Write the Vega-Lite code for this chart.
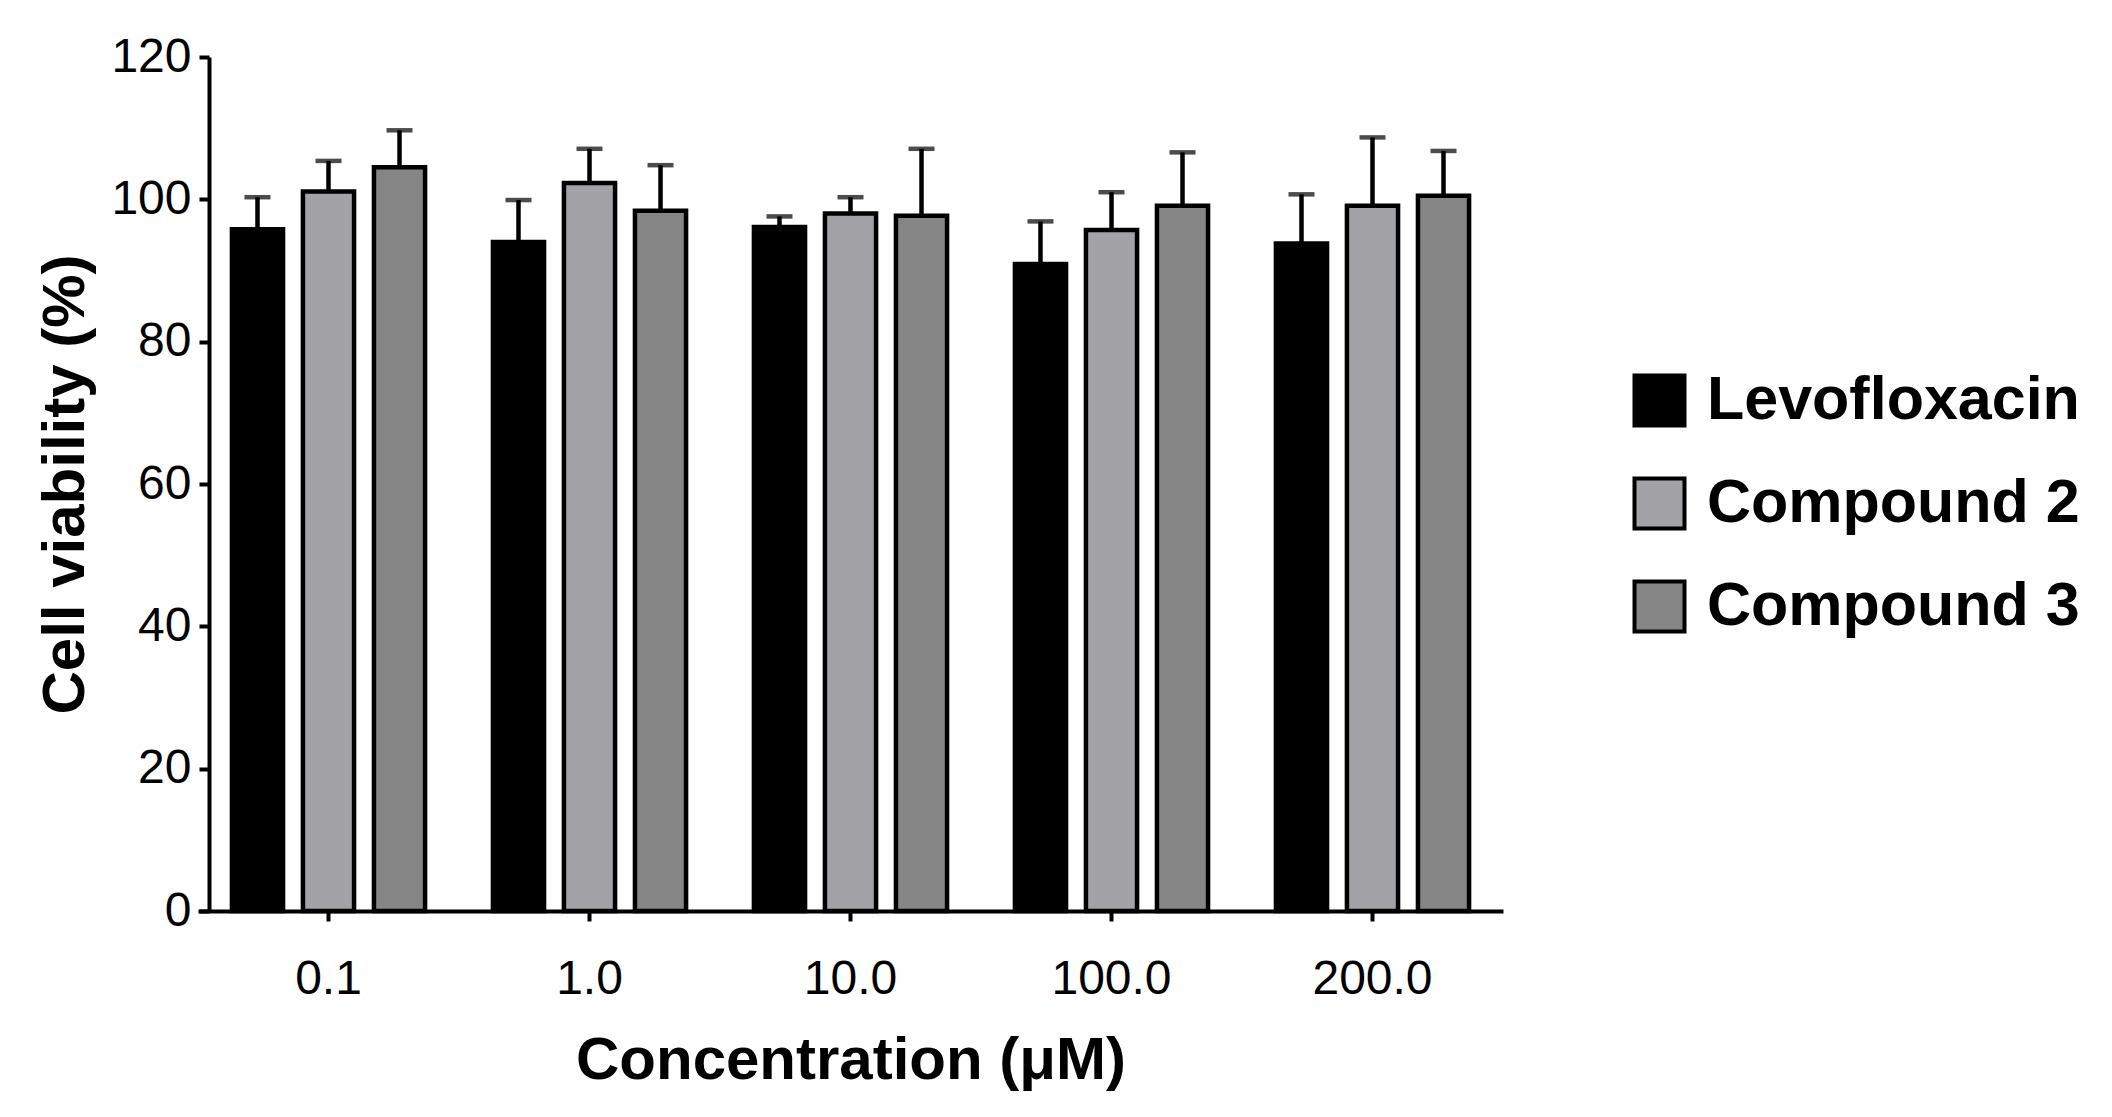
{
  "$schema": "https://vega.github.io/schema/vega-lite/v6.json",
  "autosize": "none",
  "width": 1305,
  "height": 854,
  "padding": {"left": 198, "top": 57, "right": 609, "bottom": 206},
  "background": "white",
  "data": {"values": [
    {"conc": "0.1", "group": "Levofloxacin", "mean": 95.8, "upper": 100.3},
    {"conc": "0.1", "group": "Compound 2", "mean": 101.1, "upper": 105.4},
    {"conc": "0.1", "group": "Compound 3", "mean": 104.5, "upper": 109.7},
    {"conc": "1.0", "group": "Levofloxacin", "mean": 94.0, "upper": 99.9},
    {"conc": "1.0", "group": "Compound 2", "mean": 102.3, "upper": 107.1},
    {"conc": "1.0", "group": "Compound 3", "mean": 98.4, "upper": 104.8},
    {"conc": "10.0", "group": "Levofloxacin", "mean": 96.1, "upper": 97.6},
    {"conc": "10.0", "group": "Compound 2", "mean": 98.0, "upper": 100.3},
    {"conc": "10.0", "group": "Compound 3", "mean": 97.7, "upper": 107.1},
    {"conc": "100.0", "group": "Levofloxacin", "mean": 90.9, "upper": 96.9},
    {"conc": "100.0", "group": "Compound 2", "mean": 95.7, "upper": 101.0},
    {"conc": "100.0", "group": "Compound 3", "mean": 99.1, "upper": 106.6},
    {"conc": "200.0", "group": "Levofloxacin", "mean": 93.8, "upper": 100.7},
    {"conc": "200.0", "group": "Compound 2", "mean": 99.1, "upper": 108.7},
    {"conc": "200.0", "group": "Compound 3", "mean": 100.5, "upper": 106.8}
  ]},
  "encoding": {
    "x": {
      "field": "conc", "type": "nominal",
      "sort": ["0.1", "1.0", "10.0", "100.0", "200.0"],
      "scale": {"paddingInner": 0.26, "paddingOuter": 0.13},
      "axis": {
        "title": "Concentration (\u03bcM)",
        "labelAngle": 0,
        "labelFont": "Liberation Sans", "labelFontSize": 48, "labelColor": "black",
        "labelPadding": 34,
        "tickSize": 10, "tickWidth": 4, "tickColor": "black",
        "domainColor": "black", "domainWidth": 4,
        "titleFont": "Liberation Sans", "titleFontWeight": "bold", "titleFontSize": 60, "titleColor": "black",
        "titlePadding": 28
      }
    },
    "xOffset": {
      "field": "group", "type": "nominal",
      "sort": ["Levofloxacin", "Compound 2", "Compound 3"],
      "scale": {"paddingInner": 0.28, "paddingOuter": 0}
    }
  },
  "layer": [
    {
      "mark": {"type": "bar", "stroke": "black", "strokeWidth": 4.5},
      "encoding": {
        "y": {
          "field": "mean", "type": "quantitative",
          "scale": {"domain": [0, 120], "nice": false},
          "axis": {
            "title": "Cell viability (%)",
            "values": [0, 20, 40, 60, 80, 100, 120],
            "grid": false,
            "offset": -11,
            "labelFont": "Liberation Sans", "labelFontSize": 48, "labelColor": "black",
            "labelPadding": 8,
            "tickSize": 10, "tickWidth": 4, "tickColor": "black",
            "domainColor": "black", "domainWidth": 4,
            "titleFont": "Liberation Sans", "titleFontWeight": "bold", "titleFontSize": 60, "titleColor": "black",
            "titlePadding": 14
          }
        },
        "fill": {
          "field": "group", "type": "nominal",
          "sort": ["Levofloxacin", "Compound 2", "Compound 3"],
          "scale": {"domain": ["Levofloxacin", "Compound 2", "Compound 3"], "range": ["#000000", "#a3a2a7", "#858585"]},
          "legend": {
            "title": null,
            "orient": "none",
            "legendX": 1431,
            "legendY": 313,
            "symbolType": "square",
            "symbolSize": 2500,
            "symbolStrokeColor": "black",
            "symbolStrokeWidth": 4,
            "symbolOpacity": 1,
            "labelFont": "Liberation Sans", "labelFontWeight": "bold", "labelFontSize": 61, "labelColor": "black",
            "labelOffset": 17,
            "rowPadding": 36,
            "padding": 0,
            "labelLimit": 600
          }
        }
      }
    },
    {
      "mark": {"type": "rule", "color": "black", "strokeWidth": 4.5},
      "encoding": {
        "y": {"field": "mean", "type": "quantitative"},
        "y2": {"field": "upper"}
      }
    },
    {
      "mark": {"type": "tick", "color": "black", "thickness": 4.5, "size": 26, "orient": "horizontal"},
      "encoding": {
        "y": {"field": "upper", "type": "quantitative"}
      }
    }
  ],
  "config": {
    "view": {"stroke": null},
    "axis": {"grid": false}
  }
}
